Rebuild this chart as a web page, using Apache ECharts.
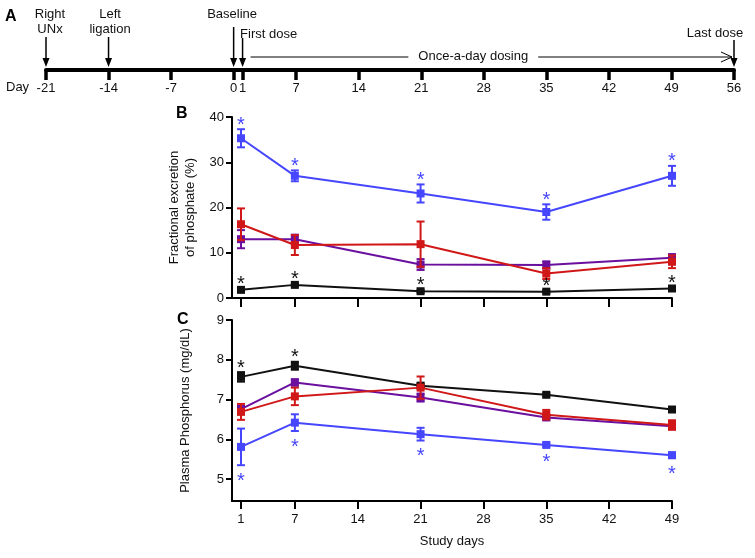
<!DOCTYPE html>
<html><head><meta charset="utf-8">
<script src="https://cdn.jsdelivr.net/npm/echarts@6/dist/echarts.min.js"></script>
<style>html,body{margin:0;padding:0;background:#fff}#c{width:755px;height:558px}</style>
</head><body><div id="c"></div>
<script>
// ---------- DATA ----------
const days = [1, 7, 21, 35, 49];
// Panel B: fractional excretion of phosphate (%)
const feBlack = [1.8, 2.9, 1.5, 1.4, 2.1];
const feBlackErr = [0.3, 0.3, 0.3, 0.3, 0.3];
const fePurple = [13.0, 13.0, 7.4, 7.3, 8.9];
const fePurpleErr = [2.0, 1.0, 1.2, 0.8, 0.8];
const feRed = [16.3, 11.7, 11.9, 5.4, 8.0];
const feRedErr = [3.5, 2.2, 5.0, 1.2, 1.4];
const feBlue = [35.3, 27.0, 23.1, 19.0, 27.0];
const feBlueErr = [2.0, 1.2, 2.0, 1.7, 2.2];
const feBlackSig = [1, 1, 1, 1, 1];
const feBlueSig = [1, 1, 1, 1, 1];
// Panel C: plasma phosphorus (mg/dL)
const ppBlack = [7.57, 7.85, 7.35, 7.12, 6.75];
const ppBlackErr = [0.12, 0.1, 0.05, 0.04, 0.04];
const ppPurple = [6.76, 7.43, 7.05, 6.55, 6.33];
const ppPurpleErr = [0.08, 0.08, 0.1, 0.05, 0.06];
const ppRed = [6.69, 7.08, 7.30, 6.62, 6.36];
const ppRedErr = [0.2, 0.22, 0.28, 0.12, 0.12];
const ppBlue = [5.81, 6.42, 6.13, 5.86, 5.60];
const ppBlueErr = [0.46, 0.21, 0.16, 0.04, 0.07];
const ppBlackSig = [1, 1, 0, 0, 0];
const ppBlueSig = [1, 1, 1, 1, 1];
// Ticks
const timelineTicks = [-21, -14, -7, 0, 1, 7, 14, 21, 28, 35, 42, 49, 56];
const studyTicks = [1, 7, 14, 21, 28, 35, 42, 49];
const feTicks = [0, 10, 20, 30, 40];
const ppTicks = [5, 6, 7, 8, 9];
// Timeline events
const eventDays = [-21, -14, 0, 1, 56];
const eventLabels = ['Right\nUNx', 'Left\nligation', 'Baseline', 'First dose', 'Last dose'];
const dosingStart = 1, dosingEnd = 56;
const dosingLabel = 'Once-a-day dosing';

// ---------- STYLE / LAYOUT ----------
const C = {black: '#111111', purple: '#6a0f9e', red: '#d01818', blue: '#4646ff'};
const FONT = '"Liberation Sans", Arial, sans-serif';
// per-event arrow length (px above axis) and text anchor offsets (px)
const evLayout = [
  {len: 33, tx: 4, ty: -33, align: 'center', va: 'bottom'},
  {len: 33, tx: 1.5, ty: -33, align: 'center', va: 'bottom'},
  {len: 43, tx: -1.5, ty: -48, align: 'center', va: 'bottom'},
  {len: 32, tx: -2.5, ty: -36, align: 'left', va: 'middle'},
  {len: 30, tx: -19, ty: -37, align: 'center', va: 'middle'}
];

const chart = echarts.init(document.getElementById('c'), null, {renderer: 'canvas'});

function lineSeries(vals, color, gi, z) {
  return {type: 'line', xAxisIndex: gi, yAxisIndex: gi, z: z,
    data: days.map((d, i) => [d, vals[i]]),
    symbol: 'rect', symbolSize: 8, showSymbol: true,
    lineStyle: {color: color, width: 2}, itemStyle: {color: color},
    animation: false, silent: true};
}
function errSeries(vals, errs, color, gi, z) {
  return {type: 'custom', xAxisIndex: gi, yAxisIndex: gi, z: z, clip: false, silent: true, animation: false,
    data: days.map((d, i) => [d, vals[i] - errs[i], vals[i] + errs[i]]),
    encode: {x: 0, y: [1, 2]},
    renderItem(params, api) {
      const lo = api.coord([api.value(0), api.value(1)]);
      const hi = api.coord([api.value(0), api.value(2)]);
      const w = 4, s = {stroke: color, lineWidth: 2};
      return {type: 'group', children: [
        {type: 'line', shape: {x1: lo[0], y1: lo[1], x2: hi[0], y2: hi[1]}, style: s},
        {type: 'line', shape: {x1: lo[0] - w, y1: lo[1], x2: lo[0] + w, y2: lo[1]}, style: s},
        {type: 'line', shape: {x1: hi[0] - w, y1: hi[1], x2: hi[0] + w, y2: hi[1]}, style: s}
      ]};
    }};
}
function starSeries(vals, errs, sig, dir, color, gi) {
  const data = [];
  days.forEach((d, i) => { if (sig[i]) data.push([d, dir > 0 ? vals[i] + errs[i] : vals[i] - errs[i]]); });
  return {type: 'custom', xAxisIndex: gi, yAxisIndex: gi, z: 20, clip: false, silent: true, animation: false,
    data: data,
    renderItem(params, api) {
      const p = api.coord([api.value(0), api.value(1)]);
      const y = dir > 0 ? p[1] - 4 : p[1] + 16;
      return {type: 'text', x: p[0], y: y,
        style: {text: '*', fill: color, font: '20px ' + FONT, align: 'center', verticalAlign: 'middle'}};
    }};
}

const timelineSeries = [
  {type: 'custom', xAxisIndex: 0, yAxisIndex: 0, z: 10, clip: false, silent: true, animation: false,
    data: eventDays.map((d, i) => [d, 0, i]),
    renderItem(params, api) {
      const i = api.value(2);
      const L = evLayout[i];
      const base = api.coord([api.value(0), 0]);
      const x = base[0], yTip = base[1] - 3, yTop = base[1] - L.len;
      return {type: 'group', children: [
        {type: 'line', shape: {x1: x, y1: yTop, x2: x, y2: yTip - 7}, style: {stroke: '#000', lineWidth: 1.5}},
        {type: 'polygon', shape: {points: [[x - 3.5, yTip - 9], [x + 3.5, yTip - 9], [x, yTip]]}, style: {fill: '#000'}},
        {type: 'text', x: x + L.tx, y: base[1] + L.ty,
          style: {text: eventLabels[i], fill: '#111', font: '13px ' + FONT, lineHeight: 15, align: L.align, verticalAlign: L.va}}
      ]};
    }},
  {type: 'custom', xAxisIndex: 0, yAxisIndex: 0, z: 10, clip: false, silent: true, animation: false,
    data: [[dosingStart, 0, dosingEnd]],
    renderItem(params, api) {
      const a = api.coord([api.value(0), 0]);
      const b = api.coord([api.value(2), 0]);
      const y = a[1] - 13;
      const x1 = a[0] + 8, x2 = b[0] - 2;
      const mid = (x1 + x2) / 2 - 18;
      return {type: 'group', children: [
        {type: 'line', shape: {x1: x1, y1: y, x2: x2, y2: y}, style: {stroke: '#000', lineWidth: 1}},
        {type: 'polyline', shape: {points: [[x2 - 11, y - 5], [x2, y], [x2 - 11, y + 5]]}, style: {stroke: '#000', lineWidth: 1, fill: null}},
        {type: 'text', x: mid, y: y - 1,
          style: {text: dosingLabel, fill: '#111', font: '13px ' + FONT, align: 'center', verticalAlign: 'middle',
            backgroundColor: '#fff', padding: [2, 10]}}
      ]};
    }}
];

const axisLbl = {color: '#111', fontSize: 13, fontFamily: FONT};

const option = {
  backgroundColor: '#fff',
  animation: false,
  graphic: [
    {type: 'text', left: 5, top: 9, style: {text: 'A', font: 'bold 16px ' + FONT, fill: '#000'}},
    {type: 'text', left: 176, top: 106, style: {text: 'B', font: 'bold 16px ' + FONT, fill: '#000'}},
    {type: 'text', left: 177, top: 312, style: {text: 'C', font: 'bold 16px ' + FONT, fill: '#000'}},
    {type: 'text', left: 6, top: 81, style: {text: 'Day', font: '13px ' + FONT, fill: '#111'}}
  ],
  grid: [
    {left: 46, right: 21, top: 20, height: 50},
    {left: 232, right: 83, top: 117, height: 181},
    {left: 232, right: 83, top: 320, height: 181}
  ],
  xAxis: [
    {gridIndex: 0, type: 'value', min: -21, max: 56,
      axisLine: {lineStyle: {color: '#000', width: 4}},
      axisTick: {show: true, customValues: timelineTicks, length: 10, lineStyle: {color: '#000', width: 3.5}},
      axisLabel: {customValues: timelineTicks, margin: 12, ...axisLbl},
      splitLine: {show: false}},
    {gridIndex: 1, type: 'value', min: 0, max: 49,
      axisLine: {lineStyle: {color: '#000', width: 2}},
      axisTick: {show: true, customValues: studyTicks, length: 9, lineStyle: {color: '#000', width: 2}},
      axisLabel: {show: false}, splitLine: {show: false}},
    {gridIndex: 2, type: 'value', min: 0, max: 49,
      name: 'Study days', nameLocation: 'middle', nameGap: 34,
      nameTextStyle: {color: '#111', fontSize: 13, fontFamily: FONT},
      axisLine: {lineStyle: {color: '#000', width: 2}},
      axisTick: {show: true, customValues: studyTicks, length: 8, lineStyle: {color: '#000', width: 2}},
      axisLabel: {customValues: studyTicks, margin: 12, ...axisLbl}, splitLine: {show: false}}
  ],
  yAxis: [
    {gridIndex: 0, type: 'value', min: 0, max: 5, show: false},
    {gridIndex: 1, type: 'value', min: 0, max: 40, interval: 10,
      name: 'Fractional excretion\nof phosphate (%)', nameLocation: 'middle', nameGap: 34,
      nameTextStyle: {color: '#111', fontSize: 13, fontFamily: FONT, lineHeight: 16},
      axisLine: {show: true, lineStyle: {color: '#000', width: 2}},
      axisTick: {show: true, customValues: feTicks, length: 6, lineStyle: {color: '#000', width: 2}},
      axisLabel: {customValues: feTicks, margin: 8, ...axisLbl}, splitLine: {show: false}},
    {gridIndex: 2, type: 'value', min: 4.45, max: 9,
      name: 'Plasma Phosphorus (mg/dL)', nameLocation: 'middle', nameGap: 40,
      nameTextStyle: {color: '#111', fontSize: 13, fontFamily: FONT},
      axisLine: {show: true, lineStyle: {color: '#000', width: 2}},
      axisTick: {show: true, customValues: ppTicks, length: 6, lineStyle: {color: '#000', width: 2}},
      axisLabel: {customValues: ppTicks, margin: 8, ...axisLbl}, splitLine: {show: false}}
  ],
  series: [
    ...timelineSeries,
    // Panel B
    errSeries(feBlack, feBlackErr, C.black, 1, 2), lineSeries(feBlack, C.black, 1, 3),
    errSeries(fePurple, fePurpleErr, C.purple, 1, 4), lineSeries(fePurple, C.purple, 1, 5),
    errSeries(feRed, feRedErr, C.red, 1, 6), lineSeries(feRed, C.red, 1, 7),
    errSeries(feBlue, feBlueErr, C.blue, 1, 8), lineSeries(feBlue, C.blue, 1, 9),
    starSeries(feBlack, feBlackErr, feBlackSig, 1, C.black, 1),
    starSeries(feBlue, feBlueErr, feBlueSig, 1, C.blue, 1),
    // Panel C
    errSeries(ppBlack, ppBlackErr, C.black, 2, 2), lineSeries(ppBlack, C.black, 2, 3),
    errSeries(ppPurple, ppPurpleErr, C.purple, 2, 4), lineSeries(ppPurple, C.purple, 2, 5),
    errSeries(ppRed, ppRedErr, C.red, 2, 6), lineSeries(ppRed, C.red, 2, 7),
    errSeries(ppBlue, ppBlueErr, C.blue, 2, 8), lineSeries(ppBlue, C.blue, 2, 9),
    starSeries(ppBlack, ppBlackErr, ppBlackSig, 1, C.black, 2),
    starSeries(ppBlue, ppBlueErr, ppBlueSig, -1, C.blue, 2)
  ]
};
chart.setOption(option);
</script>
</body></html>
